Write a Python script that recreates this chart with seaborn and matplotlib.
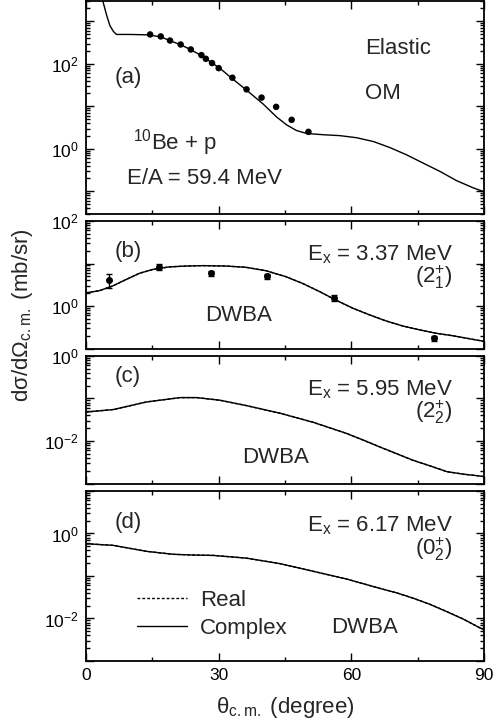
import numpy as np
import pandas as pd
import seaborn as sns
import matplotlib
matplotlib.use("Agg")
from matplotlib import pyplot as plt
from matplotlib.lines import Line2D
from matplotlib.ticker import LogLocator, FuncFormatter, MultipleLocator

# (a) elastic, optical model curve and data
theta_a = [3.0, 3.9, 4.7, 5.4, 6.2, 6.9, 9.9, 13.7, 14.5, 16.9, 19.0, 21.4, 23.7, 26.1,
           28.5, 30.5, 32.6, 36.3, 40.1, 43.1, 45.4, 47.6, 49.9, 53.7, 57.4, 61.2,
           65.0, 68.7, 72.5, 76.3, 80.0, 83.8, 87.6, 90.0]
om_a = [10000, 2750, 1350, 794, 575, 490, 490, 480, 470, 430, 350, 280, 215, 155,
        105, 75, 49, 24, 11.2, 5.6, 3.63, 2.69, 2.29, 2.14, 2.04, 1.82,
        1.48, 1.07, 0.72, 0.457, 0.295, 0.178, 0.120, 0.098]
exp_theta_a = [14.5, 16.9, 19.0, 21.4, 23.7, 26.1, 27.1, 28.5, 30.0, 33.1, 36.3,
               39.7, 43.0, 46.5, 50.3]
exp_a = [490, 440, 352, 284, 217, 160, 131, 104, 79, 47, 25, 16, 9.7, 4.8, 2.5]

# (b) Ex = 3.37 MeV
theta_b = [0.0, 3.0, 6.0, 9.0, 12.1, 15.1, 18.8, 22.6, 26.4, 31.7, 36.2, 40.7, 45.2,
           49.0, 52.8, 56.5, 60.3, 64.1, 67.8, 71.6, 75.4, 79.1, 82.9, 86.7, 90.0]
dwba_b = [2.04, 2.29, 2.95, 4.17, 5.89, 7.24, 8.32, 8.71, 8.91, 8.71, 8.13, 6.76, 4.90,
          3.39, 2.19, 1.38, 0.89, 0.62, 0.447, 0.339, 0.275, 0.229, 0.20, 0.17, 0.147]
exp_theta_b = [5.3, 16.4, 28.3, 40.9, 56.0, 78.8]
exp_b = [4.2, 8.3, 5.9, 5.0, 1.55, 0.174]
err_b = [1.6, 1.2, 0.9, 0.75, 0.23, 0.026]

# (c) Ex = 5.95 MeV
theta_c = [0.0, 0.9, 6.2, 13.7, 21.3, 25.0, 30.3, 36.3, 43.9, 51.4, 58.9, 62.7, 66.5,
           70.3, 74.0, 77.8, 81.6, 85.3, 89.1, 90.0]
dwba_c = [0.048, 0.049, 0.055, 0.083, 0.105, 0.105, 0.091, 0.068, 0.045, 0.0275,
          0.0151, 0.0105, 0.0072, 0.0050, 0.0035, 0.0026, 0.0019, 0.00166, 0.0015,
          0.00145]

# (d) Ex = 6.17 MeV
theta_d = [0.0, 6.2, 13.7, 19.7, 24.0, 28.8, 36.3, 43.9, 51.4, 58.9, 66.5, 70.3, 74.0,
           77.8, 81.6, 85.3, 89.1, 90.0]
dwba_d = [0.575, 0.525, 0.38, 0.324, 0.312, 0.305, 0.263, 0.195, 0.129, 0.085, 0.051,
          0.040, 0.030, 0.0215, 0.0145, 0.0097, 0.006, 0.0055]

sns.set_style("ticks")
plt.rcParams['font.family'] = ['Liberation Sans', 'DejaVu Sans']
plt.rcParams['mathtext.fontset'] = 'custom'
plt.rcParams['mathtext.rm'] = 'Liberation Sans'
plt.rcParams['mathtext.it'] = 'Liberation Sans:italic'
plt.rcParams['mathtext.bf'] = 'Liberation Sans:bold'

W, H = 496, 727
FS = 16
fig = plt.figure(figsize=(W / 100, H / 100), dpi=100)
gs = fig.add_gridspec(4, 1, height_ratios=[5, 3, 3, 4], hspace=0.047,
                      left=86 / W, right=484 / W, top=1 - 1 / H, bottom=1 - 661 / H)
axes = [fig.add_subplot(gs[i]) for i in range(4)]
ylims = [(0.03, 3000), (0.1, 100), (1e-3, 1), (1e-3, 10)]


def even_pow(v, pos):
    e = int(round(np.log10(v)))
    return r'$10^{%d}$' % e if e % 2 == 0 else ''


for i, ax in enumerate(axes):
    ax.set_yscale('log')
    ax.set_xlim(0, 90)
    ax.set_ylim(*ylims[i])
    ax.yaxis.set_major_locator(LogLocator(base=10, numticks=20))
    ax.yaxis.set_minor_locator(LogLocator(base=10, subs=np.arange(2, 10), numticks=20))
    ax.yaxis.set_major_formatter(FuncFormatter(even_pow))
    ax.xaxis.set_major_locator(MultipleLocator(30))
    ax.xaxis.set_minor_locator(MultipleLocator(15))
    ax.tick_params(which='both', direction='in', top=True, right=True, width=1.0,
                   labelsize=12.5, colors='k')
    ax.tick_params(axis='y', pad=5)
    ax.tick_params(axis='x', pad=5)
    ax.tick_params(which='major', length=6)
    ax.tick_params(which='minor', length=3)
    for s in ax.spines.values():
        s.set_linewidth(1.3)
        s.set_color('k')
    if i < 3:
        ax.tick_params(labelbottom=False)
    ax.set_xlabel('')
    ax.set_ylabel('')

lw = 1.0
dot = (0, (2, 1.5))

# (a)
ax = axes[0]
sns.lineplot(x=theta_a, y=om_a, ax=ax, color='k', lw=lw, estimator=None, sort=False)
sns.scatterplot(x=exp_theta_a, y=exp_a, ax=ax, color='k', s=22, edgecolor='none', zorder=3)

# (b)
ax = axes[1]
sns.lineplot(x=theta_b, y=dwba_b, ax=ax, color='k', lw=lw, ls=dot, estimator=None)
sns.lineplot(x=theta_b, y=dwba_b, ax=ax, color='k', lw=lw, estimator=None)
ax.errorbar(exp_theta_b, exp_b, yerr=err_b, fmt='o', color='k', ms=4, capsize=2,
            elinewidth=1, capthick=1, zorder=3)

# (c)
ax = axes[2]
sns.lineplot(x=theta_c, y=dwba_c, ax=ax, color='k', lw=lw, ls=dot, estimator=None)
sns.lineplot(x=theta_c, y=dwba_c, ax=ax, color='k', lw=lw, estimator=None)

# (d)
ax = axes[3]
sns.lineplot(x=theta_d, y=dwba_d, ax=ax, color='k', lw=lw, ls=dot, estimator=None)
sns.lineplot(x=theta_d, y=dwba_d, ax=ax, color='k', lw=lw, estimator=None)
handles = [Line2D([], [], color='k', lw=lw, ls=dot), Line2D([], [], color='k', lw=lw)]
ax.legend(handles, ['Real', 'Complex'], loc='upper left', bbox_to_anchor=(0.128, 0.42),
          frameon=False, fontsize=FS, handlelength=2.25, handletextpad=0.6,
          borderpad=0, borderaxespad=0, labelspacing=0.34)

axes[3].set_xticks([0, 30, 60, 90])
axes[3].set_xticklabels(['0', '30', '60', '90'])


def ptext(x, y, s, ha='left'):
    fig.text(x / W, 1 - y / H, s, ha=ha, va='baseline', fontsize=FS)


ptext(115, 83, '(a)')
ptext(365, 54, 'Elastic')
ptext(365, 99, 'OM')
ptext(133, 149.5, r'$^{10}$Be + p')
ptext(127, 184, 'E/A = 59.4 MeV')

ptext(115, 257, '(b)')
ptext(453, 260, r'E$_{\rm x}$ = 3.37 MeV', ha='right')
ptext(453, 283, r'(2$^{+}_{1}$)', ha='right')
ptext(205, 321, 'DWBA')

ptext(115, 382, '(c)')
ptext(453, 395, r'E$_{\rm x}$ = 5.95 MeV', ha='right')
ptext(453, 418, r'(2$^{+}_{2}$)', ha='right')
ptext(242, 463, 'DWBA')

ptext(115, 528, '(d)')
ptext(453, 531, r'E$_{\rm x}$ = 6.17 MeV', ha='right')
ptext(453, 555, r'(0$^{+}_{2}$)', ha='right')
ptext(331, 633, 'DWBA')

fig.text(285 / W, 1 - 707 / H, r'θ$_{\rm c.m.}$ (degree)', ha='center', va='center',
         fontsize=FS)
fig.text(23 / W, 1 - 315 / H, r'dσ/dΩ$_{\rm c.m.}$ (mb/sr)', ha='center',
         va='center', rotation=90, fontsize=FS)

fig.savefig('out.png', dpi=100)
